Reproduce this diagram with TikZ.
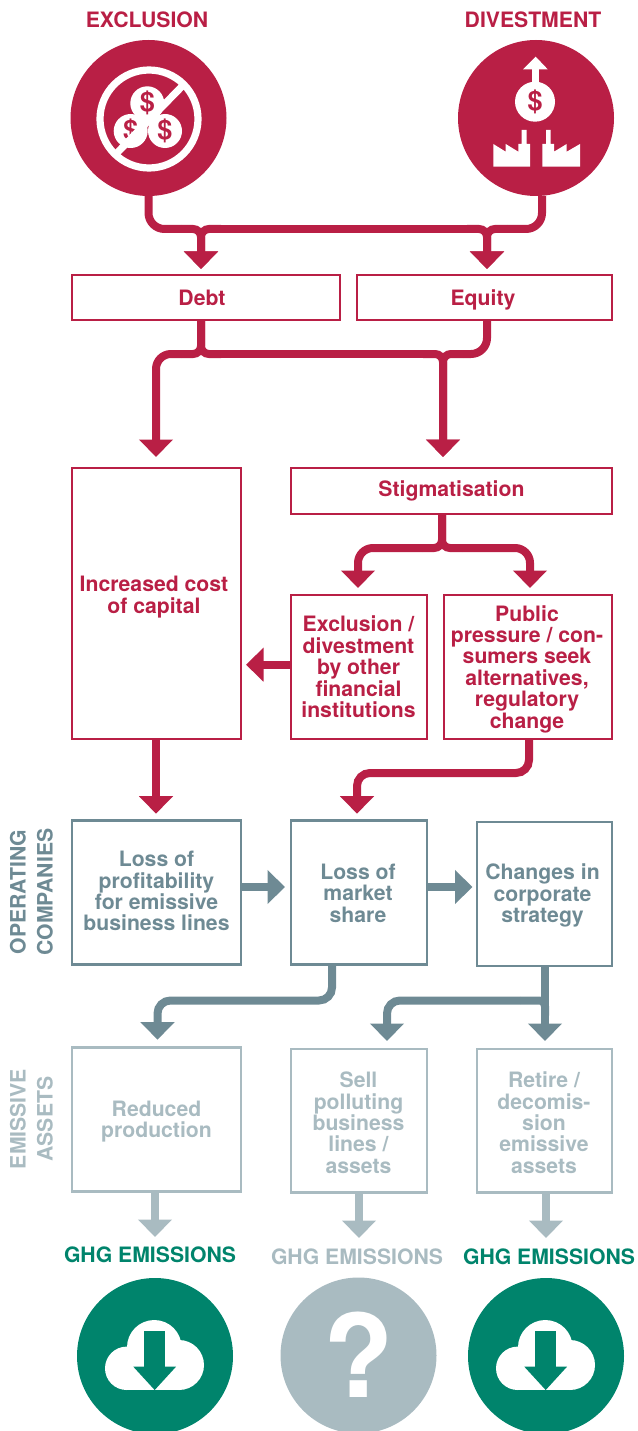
\documentclass[tikz,border=0pt]{standalone}
\usepackage{fontspec}
\setmainfont{TeX Gyre Heros}
\usetikzlibrary{arrows.meta}
\definecolor{crim}{HTML}{B91F45}
\definecolor{slate}{HTML}{6E8A94}
\definecolor{pale}{HTML}{A9BBC1}
\definecolor{teal}{HTML}{00846C}
\tikzset{
  base/.style={draw,line width=2.5pt,outer sep=0pt,inner sep=0pt,font=\fontsize{21.2}{21.4}\selectfont\bfseries,anchor=north west},
  redbox/.style={base,draw=crim,text=crim},
  slatebox/.style={base,draw=slate,text=slate},
  palebox/.style={base,draw=pale,text=pale},
  conn/.style={line width=8pt},
  rc/.style={rounded corners=#1},
  tip/.style={conn,-{Triangle[width=33pt,length=17.5pt]},shorten >=#1},
  ttl/.style={font=\fontsize{21.2}{22}\selectfont\bfseries,inner sep=0pt},
  side/.style={font=\fontsize{21.2}{27}\selectfont\bfseries,inner sep=0pt,rotate=90,align=center},
  disc/.style={circle,minimum size=156pt,inner sep=0pt,outer sep=0pt},
  dollar/.style={font=\fontsize{27}{27}\selectfont\bfseries,text=crim,inner sep=0pt}
}
\newcommand{\lbl}[3]{\kern#1pt\raisebox{\dimexpr#2pt-8pt\relax}[0pt][0pt]{\setbox\strutbox=\hbox{\vrule height 16pt depth 5.4pt width 0pt}\begin{tabular}[c]{@{}c@{}}#3\end{tabular}}\kern-#1pt}
\newcommand{\boxn}[7]{\node[#1,minimum width=#5pt-#3pt,minimum height=#6pt-#4pt] (#2) at (#3,#4) {#7};}
\newcommand{\cloudicon}[1]{%
  \begin{scope}[shift={(#1,1356)}]
    \fill[white] (-28.3,12.3) circle (21.7);
    \fill[white] (-0.7,-8.7) circle (27.3);
    \fill[white] (24,9) circle (25);
    \fill[white] (-28.3,9) rectangle (24,34);
    \fill[teal] (-11,-25.3) rectangle (10.3,11);
    \fill[teal] (-21.7,10.7) -- (21,10.7) -- (-0.3,34) -- cycle;
  \end{scope}}
\begin{document}
\begin{tikzpicture}[x=1pt,y=-1pt]
\useasboundingbox (0,0) rectangle (637,1431);
% titles
\node[ttl,text=crim] (t1) at (147,20) {EXCLUSION};
\node[ttl,text=crim] (t2) at (533,20) {DIVESTMENT};
% discs
\node[disc,fill=crim] (excl) at (148.5,118) {};
\node[disc,fill=crim] (dive) at (536,118) {};
% exclusion icon
\draw[white,line width=7.2pt] (149,119) circle (49);
\fill[white] (147.3,103.3) circle (17);
\fill[white] (130.7,131) circle (17);
\fill[white] (165,131) circle (17);
\node[dollar] (d1) at (147.3,103.3) {\$};
\node[dollar] (d2) at (130.7,131) {\$};
\node[dollar] (d3) at (165,131) {\$};
\draw[white,line width=7.2pt] (183.3,85) -- (115,155);
% divestment icon
\fill[white] (535,101.7) circle (20);
\fill[white] (532.3,85) rectangle (538.7,68);
\fill[white] (523,69.3) -- (547.7,69.3) -- (535.7,56.7) -- cycle;
\node[dollar] (d4) at (535,102) {\$};
\fill[white] (493.3,166.7) -- (493.3,144) -- (505.7,151.7) -- (505.7,144) -- (518.3,151.7) -- (518.3,144) -- (521.7,144) -- (521.7,130) -- (526.7,130) -- (526.7,144) -- (530,144) -- (530,166.7) -- cycle;
\fill[white] (542.3,166.7) -- (542.3,144) -- (546,144) -- (546,130) -- (550.7,130) -- (550.7,144) -- (554,144) -- (554,151.7) -- (566.7,144) -- (566.7,151.7) -- (580,144) -- (580,166.7) -- cycle;
% boxes
\boxn{redbox}{debt}{72}{275}{340}{320}{\lbl{-4}{0.5}{Debt}}
\boxn{redbox}{equity}{357}{275}{612}{320}{\lbl{-1.5}{0.5}{Equity}}
\boxn{redbox}{cost}{72}{468}{241}{739}{\lbl{-2.5}{9}{Increased cost\\of capital}}
\boxn{redbox}{stig}{291}{468}{612}{514}{\lbl{0}{2.5}{Stigmatisation}}
\boxn{redbox}{other}{291}{595}{427}{739}{\lbl{-0.5}{0.5}{Exclusion /\\divestment\\by other\\financial\\institutions}}
\boxn{redbox}{pub}{444}{595}{612}{739}{\lbl{-1}{0.5}{Public\\pressure / con-\\sumers seek\\alternatives,\\regulatory\\change}}
\boxn{slatebox}{prof}{72}{820.7}{241}{964.7}{\lbl{0}{2}{Loss of\\profitability\\for emissive\\business lines}}
\boxn{slatebox}{mkt}{291}{820.7}{427}{964.7}{\lbl{-1}{0}{Loss of\\market\\share}}
\boxn{slatebox}{strat}{477}{822}{612}{966}{\lbl{-2}{1}{Changes in\\corporate\\strategy}}
\boxn{palebox}{prod}{72}{1047.7}{241}{1191.7}{\lbl{0}{1}{Reduced\\production}}
\boxn{palebox}{sell}{291}{1049}{427}{1192.7}{\lbl{-0.5}{-1.5}{Sell\\polluting\\business\\lines /\\assets}}
\boxn{palebox}{ret}{477}{1049}{612}{1192.7}{\lbl{-0.5}{-1.5}{Retire /\\decomis-\\sion\\emissive\\assets}}
% side labels
\node[side,text=slate] (s1) at (31.5,892) {OPERATING\\COMPANIES};
\node[side,text=pale] (s2) at (31.5,1119) {EMISSIVE\\ASSETS};
% GHG labels and discs
\node[ttl,text=teal] (g1) at (150,1255) {GHG EMISSIONS};
\node[ttl,text=pale] (g2) at (357,1257) {GHG EMISSIONS};
\node[ttl,text=teal] (g3) at (549,1257) {GHG EMISSIONS};
\node[disc,fill=teal] (o1) at (155,1356) {};
\node[disc,fill=pale] (o2) at (358.5,1355.5) {};
\node[disc,fill=teal] (o3) at (546,1356) {};
\cloudicon{155}
\cloudicon{546}
\node[inner sep=0pt,text=white,font=\fontsize{115}{115}\selectfont\bfseries] (q) at (358.3,1355) {?};
% junction coordinates
\coordinate (c2) at (542,196);
\coordinate (j1) at (201,229);
\coordinate (j2) at (487,229);
\coordinate (k1) at (201,354);
\coordinate (k2) at (443,354);
\coordinate (k3) at (487,354);
\coordinate (k0) at (156,354);
\coordinate (l1) at (442,548);
\coordinate (l2) at (358,548);
\coordinate (l3) at (530,548);
\coordinate (h1) at (0,664.7);
\coordinate (p1) at (529,773);
\coordinate (p2) at (357,773);
\coordinate (h2) at (0,887);
\coordinate (q1) at (332,1000.5);
\coordinate (q2) at (157.5,1000.5);
\coordinate (q3) at (545,1000.5);
\coordinate (q4) at (387,1000.5);
\coordinate (e1) at (155,1237);
\coordinate (e2) at (359,1238);
\coordinate (e3) at (546,1238);
% red connectors
\begin{scope}[draw=crim,color=crim]
\draw[conn,rc=16pt] (excl.south) |- ([xshift=-20]j1);
\draw[conn,rc=16pt] (c2) |- ([xshift=20]j2);
\draw[conn] ([xshift=20]j1) -- ([xshift=-20]j2);
\draw[tip=6pt,rc=8pt] ([xshift=-20]j1) -| (j1 |- debt.north);
\draw[tip=6pt,rc=8pt] ([xshift=20]j1) -| (j1 |- debt.north);
\draw[tip=6pt,rc=8pt] ([xshift=-20]j2) -| (j2 |- equity.north);
\draw[tip=6pt,rc=8pt] ([xshift=20]j2) -| (j2 |- equity.north);
\draw[conn,rc=8pt] (k1 |- debt.south) |- ([xshift=-20]k1);
\draw[conn,rc=8pt] (k1 |- debt.south) |- ([xshift=20]k1);
\draw[conn,rc=16pt] (k3 |- equity.south) |- ([xshift=20]k2);
\draw[conn] ([xshift=20]k1) -- ([xshift=-20]k2);
\draw[tip=11pt,rc=15pt] ([xshift=-20]k1) -| (k0 |- cost.north);
\draw[tip=11pt,rc=8pt] ([xshift=-20]k2) -| (k2 |- stig.north);
\draw[tip=11pt,rc=8pt] ([xshift=20]k2) -| (k2 |- stig.north);
\draw[conn,rc=8pt] (l1 |- stig.south) |- ([xshift=-20]l1);
\draw[conn,rc=8pt] (l1 |- stig.south) |- ([xshift=20]l1);
\draw[tip=7pt,rc=15pt] ([xshift=-20]l1) -| (l2 |- other.north);
\draw[tip=7pt,rc=15pt] ([xshift=20]l1) -| (l3 |- pub.north);
\draw[tip=5pt] (other.west |- h1) -- (cost.east |- h1);
\draw[tip=7pt] (k0 |- cost.south) -- (k0 |- prof.north);
\draw[tip=7pt,rc=13pt] (p1 |- pub.south) -- (p1) -- (p2) -- (p2 |- mkt.north);
\end{scope}
% slate connectors
\begin{scope}[draw=slate,color=slate]
\draw[tip=6pt] (prof.east |- h2) -- (mkt.west |- h2);
\draw[tip=4.5pt] (mkt.east |- h2) -- (strat.west |- h2);
\draw[tip=8pt,rc=13pt] (q1 |- mkt.south) -- (q1) -- (q2) -- (q2 |- prod.north);
\draw[tip=8pt] (q3 |- strat.south) -- (q3 |- ret.north);
\draw[conn,rc=6pt] ([yshift=-15]q3) |- ([xshift=-25]q3);
\draw[tip=8pt,rc=13pt] ([xshift=-25]q3) -- (q4) -- (q4 |- sell.north);
\end{scope}
% pale connectors
\begin{scope}[draw=pale,color=pale]
\draw[tip=0pt] (e1 |- prod.south) -- (e1);
\draw[tip=0pt] (e2 |- sell.south) -- (e2);
\draw[tip=0pt] (e3 |- ret.south) -- (e3);
\end{scope}
\end{tikzpicture}
\end{document}
